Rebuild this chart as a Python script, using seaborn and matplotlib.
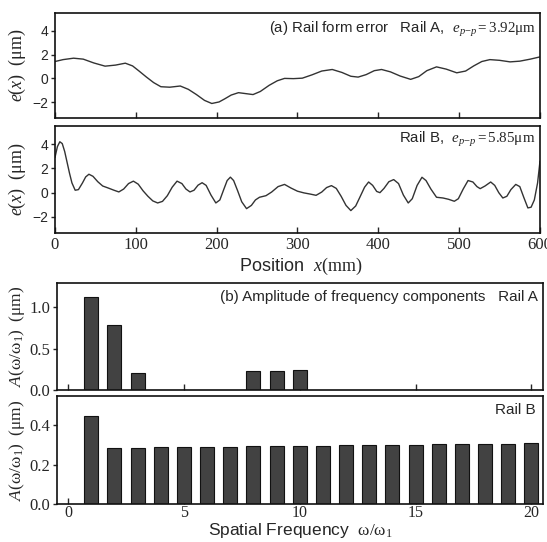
import numpy as np
import pandas as pd
import matplotlib
matplotlib.use("Agg")
import matplotlib.pyplot as plt
import seaborn as sns

# Rail form error, sample position (0..600) vs e(x) in um
pos_a = [0, 10, 23, 35, 48, 62, 75, 87, 96, 104, 113, 122, 131, 142, 155, 165, 175, 185,
         194, 203, 210, 218, 227, 236, 245, 254, 265, 275, 284, 295, 306, 318, 330, 343,
         355, 366, 375, 385, 395, 404, 415, 427, 440, 450, 460, 472, 484, 497, 508, 518,
         528, 538, 550, 563, 575, 588, 600]
err_a = [1.42, 1.58, 1.70, 1.62, 1.30, 1.03, 1.12, 1.28, 1.05, 0.62, 0.12, -0.35, -0.70,
         -0.74, -0.64, -0.92, -1.36, -1.85, -2.11, -1.98, -1.72, -1.40, -1.20, -1.28, -1.36,
         -1.10, -0.58, -0.20, 0.00, -0.02, 0.02, 0.30, 0.62, 0.75, 0.50, 0.18, 0.11, 0.32,
         0.65, 0.75, 0.55, 0.20, -0.08, 0.15, 0.65, 0.97, 0.78, 0.47, 0.62, 1.05, 1.42,
         1.58, 1.52, 1.39, 1.45, 1.62, 1.81]

pos_b = [0, 3, 6, 9, 12, 15, 18, 21, 25, 29, 34, 38, 42, 47, 53, 59, 66, 73, 79, 85, 91,
         97, 103, 109, 115, 121, 127, 133, 139, 145, 151, 157, 162, 167, 172, 177, 182, 187,
         193, 199, 204, 209, 213, 217, 221, 226, 231, 237, 243, 248, 253, 261, 268, 276,
         284, 292, 300, 308, 316, 323, 330, 336, 342, 348, 354, 360, 366, 372, 377, 383,
         388, 393, 398, 402, 407, 413, 419, 425, 431, 437, 442, 448, 454, 459, 465, 472,
         480, 487, 494, 499, 505, 511, 517, 522, 526, 532, 539, 544, 549, 554, 559, 564,
         570, 575, 580, 585, 589, 593, 597, 600]
err_b = [2.9, 3.8, 4.2, 4.05, 3.4, 2.5, 1.6, 0.8, 0.2, 0.25, 0.8, 1.3, 1.52, 1.35, 0.9,
         0.55, 0.38, 0.2, 0.06, 0.3, 0.75, 0.95, 0.7, 0.15, -0.3, -0.68, -0.85, -0.72,
         -0.25, 0.45, 0.95, 0.75, 0.3, 0.06, 0.2, 0.62, 0.82, 0.6, -0.2, -0.85, -0.6, 0.3,
         1.0, 1.28, 1.0, 0.15, -0.75, -1.32, -1.05, -0.6, -0.38, -0.25, 0.05, 0.5, 0.68,
         0.38, 0.12, -0.02, -0.12, -0.22, 0.05, 0.42, 0.58, 0.35, -0.3, -1.05, -1.48,
         -1.1, -0.4, 0.45, 0.88, 0.6, 0.1, 0.0, 0.35, 0.9, 1.08, 0.75, -0.2, -0.85, -0.5,
         0.6, 1.27, 1.0, 0.3, -0.38, -0.44, -0.55, -0.71, -0.5, 0.3, 1.0, 0.88, 0.5, 0.33,
         0.55, 0.88, 0.6, 0.0, -0.44, -0.3, 0.25, 0.68, 0.5, -0.4, -1.26, -1.2, -0.6, 0.8,
         2.6]

# amplitude of frequency components
freq_a = [1, 2, 3, 8, 9, 10]
amp_a = [1.125, 0.79, 0.21, 0.23, 0.23, 0.24]
freq_b = list(range(1, 21))
amp_b = [0.45, 0.285, 0.287, 0.288, 0.290, 0.291, 0.292, 0.294, 0.295, 0.296, 0.297,
         0.299, 0.300, 0.301, 0.302, 0.304, 0.305, 0.307, 0.308, 0.310]

sns.set_style("ticks")
plt.rcParams['font.family'] = ['Liberation Sans', 'DejaVu Sans']
plt.rcParams['mathtext.fontset'] = 'custom'
plt.rcParams['mathtext.rm'] = 'Liberation Serif'
plt.rcParams['mathtext.it'] = 'Liberation Serif:italic'
plt.rcParams['mathtext.bf'] = 'Liberation Serif:bold'
plt.rcParams['axes.linewidth'] = 1.2
plt.rcParams['axes.edgecolor'] = '#111111'

line_col = '#333333'
bar_col = '#424242'
serif = ['Liberation Serif', 'DejaVu Serif']

fig = plt.figure(figsize=(5.47, 5.42), dpi=100)
ax1 = fig.add_axes([0.1005, 0.7823, 0.8867, 0.1937])
ax2 = fig.add_axes([0.1005, 0.5701, 0.8867, 0.1974])
ax3 = fig.add_axes([0.1042, 0.2804, 0.8885, 0.1974])
ax4 = fig.add_axes([0.1042, 0.0701, 0.8885, 0.1993])

df_a = pd.DataFrame({'x': pos_a, 'e': err_a})
df_b = pd.DataFrame({'x': pos_b, 'e': err_b})
sns.lineplot(data=df_a, x='x', y='e', ax=ax1, color=line_col, lw=1.0)
sns.lineplot(data=df_b, x='x', y='e', ax=ax2, color=line_col, lw=1.0)

for ax in (ax1, ax2):
    ax.set_xlim(0, 600)
    ax.set_ylim(-3.33, 5.5)
    ax.set_yticks([-2, 0, 2, 4])
    ax.set_xticks(range(0, 700, 100))
    ax.tick_params(axis='x', direction='in', length=4, width=1)
    ax.tick_params(axis='y', direction='out', length=3, width=1, labelsize=10, pad=2)
    ax.set_xlabel('')
    ax.set_ylabel(r'$e(x)\ \ \mathrm{(μm)}$', fontsize=13)
    ax.yaxis.set_label_coords(-0.056, 0.5)
ax1.set_xticklabels([])
ax2.set_xticklabels([str(v) for v in range(0, 700, 100)], fontfamily=serif, fontsize=12)
ax2.tick_params(axis='x', pad=3)

ax1.text(0.992, 0.84, r'(a) Rail form error   Rail A,  $e_{p\mathrm{-}p}{=}\mathrm{3.92μm}$',
         transform=ax1.transAxes, ha='right', va='center', fontsize=10.8)
ax2.text(0.99, 0.87, r'Rail B,  $e_{p\mathrm{-}p}{=}\mathrm{5.85μm}$',
         transform=ax2.transAxes, ha='right', va='center', fontsize=10.8)
fig.text(0.55, 1 - 266 / 542, r'Position  $x\mathrm{(mm)}$', ha='center', va='center',
         fontsize=13)

sns.barplot(x=freq_a, y=amp_a, ax=ax3, native_scale=True, width=0.6, color=bar_col,
            saturation=1, edgecolor='#111111', linewidth=0.8, errorbar=None)
sns.barplot(x=freq_b, y=amp_b, ax=ax4, native_scale=True, width=0.6, color=bar_col,
            saturation=1, edgecolor='#111111', linewidth=0.8, errorbar=None)

for ax in (ax3, ax4):
    ax.set_xlim(-0.48, 20.5)
    ax.set_xticks([0, 5, 10, 15, 20])
    ax.tick_params(axis='x', direction='in', length=4, width=1, pad=1)
    ax.tick_params(axis='y', direction='out', length=3, width=1, pad=2)
    ax.set_xlabel('')
    ax.set_ylabel(r'$A(\mathrm{ω/ω}_1)\ \ \mathrm{(μm)}$', fontsize=12.5)
    ax.yaxis.set_label_coords(-0.062, 0.5)
ax3.set_ylim(0, 1.29)
ax3.set_yticks([0.0, 0.5, 1.0])
ax3.set_yticklabels(['0.0', '0.5', '1.0'], fontfamily=serif, fontsize=12)
ax3.set_xticklabels([])
ax4.set_ylim(0, 0.55)
ax4.set_yticks([0.0, 0.2, 0.4])
ax4.set_yticklabels(['0.0', '0.2', '0.4'], fontfamily=serif, fontsize=12)
ax4.set_xticklabels(['0', '5', '10', '15', '20'], fontfamily=serif, fontsize=11.5)

ax3.text(0.99, 0.87, '(b) Amplitude of frequency components   Rail A',
         transform=ax3.transAxes, ha='right', va='center', fontsize=11)
ax4.text(0.985, 0.874, 'Rail B', transform=ax4.transAxes, ha='right', va='center',
         fontsize=11)
fig.text(0.55, 2 / 542, r'Spatial Frequency  $\mathrm{ω/ω}_1$', ha='center',
         va='bottom', fontsize=12.5)

fig.savefig('out.png', dpi=100)
